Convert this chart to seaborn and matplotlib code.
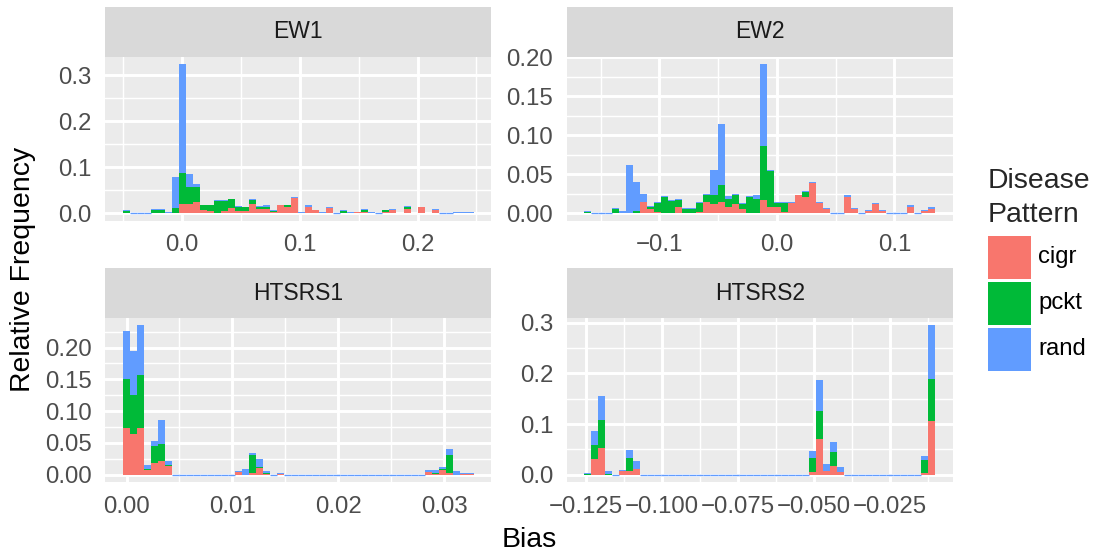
import numpy as np
import pandas as pd
import matplotlib
matplotlib.use("Agg")
import matplotlib.pyplot as plt
from matplotlib.patches import Rectangle
import seaborn as sns

sns.set_style("white")
plt.rcParams["font.family"] = ["Liberation Sans", "DejaVu Sans"]

# ---------------------------------------------------------------------------
# Binned relative frequencies (50 bins per method), one list per pattern
# ---------------------------------------------------------------------------
patterns = ["cigr", "pckt", "rand"]
colors = {"cigr": "#F8766D", "pckt": "#00BA38", "rand": "#619CFF"}

ew1_range = (-0.0506, 0.2477)
ew1_cigr = [0, 0, 0, 0, 0, 0, 0, 0, 0.020, 0.020,
            0.025, 0.007, 0.005, 0.001, 0.005, 0.012, 0.005, 0.005, 0.020, 0.009,
            0.010, 0.003, 0.018, 0.014, 0.034, 0, 0.014, 0.006, 0.001, 0.012,
            0, 0, 0, 0.002, 0.003, 0.001, 0, 0.003, 0.008, 0,
            0.009, 0, 0.013, 0, 0.008, 0, 0, 0.001, 0.001, 0.001]
ew1_pckt = [0.005, 0, 0, 0, 0.008, 0.008, 0, 0.012, 0.067, 0.037,
            0.032, 0.010, 0.012, 0.026, 0.022, 0.018, 0.009, 0.008, 0.009, 0.005,
            0.004, 0.001, 0, 0.003, 0, 0, 0, 0, 0, 0,
            0, 0.005, 0.001, 0, 0.004, 0, 0, 0.004, 0, 0,
            0.004, 0, 0, 0, 0, 0, 0, 0, 0, 0]
ew1_rand = [0.002, 0, 0, 0, 0.001, 0.001, 0.003, 0.066, 0.236, 0.028,
            0.006, 0.001, 0.001, 0.002, 0.002, 0.002, 0.002, 0.001, 0.002, 0.001,
            0.003, 0.003, 0.001, 0.001, 0.002, 0.002, 0.003, 0.001, 0.001, 0.002,
            0, 0.002, 0.001, 0.001, 0.002, 0.001, 0, 0.001, 0.001, 0.001,
            0.003, 0.001, 0.001, 0.001, 0.001, 0, 0, 0.001, 0.001, 0.001]

ew2_range = (-0.164, 0.1348)
ew2_cigr = [0, 0, 0, 0, 0, 0, 0, 0, 0.015, 0.0055,
            0.002, 0, 0, 0.0085, 0, 0, 0.002, 0.0145, 0.012, 0.0145,
            0.008, 0.012, 0.0055, 0, 0, 0.017, 0.008, 0.008, 0.002, 0.013,
            0.023, 0.021, 0.039, 0.013, 0.006, 0, 0, 0.021, 0.006, 0,
            0.003, 0.012, 0.003, 0, 0, 0, 0.008, 0, 0.003, 0.0055]
ew2_pckt = [0.0013, 0, 0, 0, 0.0055, 0, 0, 0.003, 0, 0.003,
            0.011, 0.021, 0.016, 0.009, 0.006, 0.006, 0.011, 0.009, 0.012, 0.022,
            0.010, 0.012, 0.007, 0.021, 0.018, 0.069, 0.046, 0.005, 0.011, 0,
            0, 0.0065, 0, 0, 0, 0, 0, 0, 0, 0,
            0, 0, 0, 0, 0, 0, 0, 0, 0, 0]
ew2_rand = [0.001, 0, 0, 0, 0.001, 0.003, 0.062, 0.037, 0.010, 0.001,
            0.001, 0.001, 0.001, 0.001, 0.001, 0.001, 0.001, 0.001, 0.031, 0.078,
            0.004, 0.001, 0.001, 0.001, 0.006, 0.105, 0.001, 0.001, 0.001, 0.001,
            0.001, 0.001, 0.001, 0.001, 0.001, 0, 0, 0.002, 0.001, 0,
            0.001, 0.001, 0.001, 0, 0, 0, 0.002, 0, 0.001, 0.002]

htsrs1_range = (-0.000377, 0.0328)
htsrs1_cigr = [0.0735, 0.064, 0.0735, 0.0068, 0.0178, 0.021, 0.0142, 0, 0, 0,
               0, 0, 0, 0, 0, 0, 0.0037, 0, 0.002, 0.010,
               0.001, 0, 0.001, 0, 0, 0, 0, 0, 0, 0,
               0, 0, 0, 0, 0, 0, 0, 0, 0, 0,
               0, 0, 0, 0.0037, 0.001, 0.0073, 0.002, 0, 0.001, 0.001]
htsrs1_pckt = [0.0766, 0.0614, 0.083, 0.0016, 0.0268, 0.0268, 0.001, 0, 0, 0,
               0, 0, 0, 0, 0, 0, 0, 0, 0.0283, 0.0016,
               0.001, 0, 0, 0, 0, 0, 0, 0, 0, 0,
               0, 0, 0, 0, 0, 0, 0, 0, 0, 0,
               0, 0, 0, 0.001, 0.001, 0.001, 0.0283, 0, 0, 0]
htsrs1_rand = [0.0755, 0.0687, 0.0787, 0.0063, 0.0089, 0.0378, 0.0058, 0, 0, 0,
               0, 0, 0, 0, 0, 0, 0.0016, 0.0084, 0.003, 0.0126,
               0.003, 0, 0.001, 0, 0, 0, 0, 0, 0, 0,
               0, 0, 0, 0, 0, 0, 0, 0, 0, 0,
               0, 0, 0, 0.003, 0.0058, 0.003, 0.0094, 0.005, 0.001, 0.001]

htsrs2_range = (-0.12566, -0.01019)
htsrs2_cigr = [0, 0.031, 0.052, 0, 0, 0.0066, 0.0066, 0.011, 0, 0,
               0, 0, 0, 0, 0, 0, 0, 0, 0, 0,
               0, 0, 0, 0, 0, 0, 0, 0, 0, 0,
               0, 0, 0.005, 0.0695, 0.007, 0.017, 0.005, 0, 0, 0,
               0, 0, 0, 0, 0, 0, 0, 0, 0.003, 0.1066]
htsrs2_pckt = [0.002, 0.028, 0.055, 0.0005, 0, 0, 0.027, 0, 0, 0,
               0, 0, 0, 0, 0, 0, 0, 0, 0, 0,
               0, 0, 0, 0, 0, 0, 0, 0, 0, 0,
               0, 0, 0.028, 0.057, 0, 0.028, 0.0005, 0, 0, 0,
               0, 0, 0, 0, 0, 0, 0, 0, 0.026, 0.083]
htsrs2_rand = [0.002, 0.028, 0.048, 0.007, 0, 0.0026, 0.014, 0.016, 0, 0,
               0, 0, 0, 0, 0, 0, 0, 0, 0, 0,
               0, 0, 0, 0, 0, 0, 0, 0, 0, 0,
               0, 0, 0.014, 0.060, 0.0146, 0.020, 0.010, 0, 0, 0,
               0, 0, 0, 0, 0, 0, 0, 0, 0.008, 0.106]

# Axis breaks and labels per facet (free scales)
ew1_xticks, ew1_xlabels = [0.0, 0.1, 0.2], ["0.0", "0.1", "0.2"]
ew1_yticks, ew1_ylabels = [0.0, 0.1, 0.2, 0.3], ["0.0", "0.1", "0.2", "0.3"]
ew2_xticks, ew2_xlabels = [-0.1, 0.0, 0.1], ["\u22120.1", "0.0", "0.1"]
ew2_yticks = [0.0, 0.05, 0.10, 0.15, 0.20]
ew2_ylabels = ["0.00", "0.05", "0.10", "0.15", "0.20"]
htsrs1_xticks = [0.0, 0.01, 0.02, 0.03]
htsrs1_xlabels = ["0.00", "0.01", "0.02", "0.03"]
htsrs1_yticks = [0.0, 0.05, 0.10, 0.15, 0.20]
htsrs1_ylabels = ["0.00", "0.05", "0.10", "0.15", "0.20"]
htsrs2_xticks = [-0.125, -0.100, -0.075, -0.050, -0.025]
htsrs2_xlabels = ["\u22120.125", "\u22120.100", "\u22120.075", "\u22120.050", "\u22120.025"]
htsrs2_yticks, htsrs2_ylabels = [0.0, 0.1, 0.2, 0.3], ["0.0", "0.1", "0.2", "0.3"]

facets = [
    ("EW1", ew1_range, (ew1_cigr, ew1_pckt, ew1_rand),
     ew1_xticks, ew1_xlabels, ew1_yticks, ew1_ylabels),
    ("EW2", ew2_range, (ew2_cigr, ew2_pckt, ew2_rand),
     ew2_xticks, ew2_xlabels, ew2_yticks, ew2_ylabels),
    ("HTSRS1", htsrs1_range, (htsrs1_cigr, htsrs1_pckt, htsrs1_rand),
     htsrs1_xticks, htsrs1_xlabels, htsrs1_yticks, htsrs1_ylabels),
    ("HTSRS2", htsrs2_range, (htsrs2_cigr, htsrs2_pckt, htsrs2_rand),
     htsrs2_xticks, htsrs2_xlabels, htsrs2_yticks, htsrs2_ylabels),
]

# ---------------------------------------------------------------------------
# Figure layout (pixel based)
# ---------------------------------------------------------------------------
W, H, DPI = 1096, 554, 100
fig = plt.figure(figsize=(W / DPI, H / DPI), dpi=DPI)
fig.patch.set_facecolor("white")


def px_axes(left, top, right, bottom):
    return fig.add_axes([left / W, 1 - bottom / H, (right - left) / W, (bottom - top) / H])


col_x = [(105.0, 491.3), (566.5, 952.8)]
row_y = [(7.0, 57.0, 220.7), (268.3, 317.7, 482.0)]   # strip top, panel top, panel bottom

PANEL_BG = "#EBEBEB"
STRIP_BG = "#D9D9D9"
TICK_COL = "#333333"
LABEL_COL = "#4D4D4D"
NBINS = 50
TICK_SIZE = 17.3
TITLE_SIZE = 20.4
STRIP_SIZE = 16.5


def minor_breaks(major, lo, hi):
    step = major[1] - major[0]
    cands = [major[0] - step / 2] + [m + step / 2 for m in major]
    return [c for c in cands if lo < c < hi]


for i, (name, rng, series, xt, xl, yt, yl) in enumerate(facets):
    r, c = divmod(i, 2)
    left, right = col_x[c]
    strip_top, panel_top, panel_bottom = row_y[r]

    width = (rng[1] - rng[0]) / NBINS
    centers = rng[0] + width * (np.arange(NBINS) + 0.5)
    df = pd.DataFrame({
        "Bias": np.tile(centers, 3),
        "freq": np.concatenate([np.asarray(s, float) for s in series]),
        "Pattern": np.repeat(patterns, NBINS),
    })

    ax = px_axes(left, panel_top, right, panel_bottom)
    ax.set_facecolor(PANEL_BG)
    sns.histplot(data=df, x="Bias", weights="freq", hue="Pattern",
                 hue_order=["rand", "pckt", "cigr"], palette=colors,
                 multiple="stack", bins=NBINS, binrange=rng, stat="count",
                 alpha=1, linewidth=0, legend=False, ax=ax)

    # zero-height rectangles still leave a hairline of the top layer
    blue = matplotlib.colors.to_rgba(colors["rand"])
    for p in ax.patches:
        if np.allclose(p.get_facecolor(), blue) and abs(p.get_height()) < 1e-9:
            p.set_edgecolor(colors["rand"])
            p.set_linewidth(1.0)
            p.set_zorder(3)

    top_total = float(np.max(np.sum([np.asarray(s, float) for s in series], axis=0)))
    span = rng[1] - rng[0]
    xlim = (rng[0] - 0.05 * span, rng[1] + 0.05 * span)
    ylim = (-0.05 * top_total, 1.05 * top_total)
    ax.set_xlim(*xlim)
    ax.set_ylim(*ylim)

    ax.set_xticks(xt)
    ax.set_xticklabels(xl)
    ax.set_yticks(yt)
    ax.set_yticklabels(yl)
    ax.set_xticks(minor_breaks(xt, *xlim), minor=True)
    ax.set_yticks(minor_breaks(yt, *ylim), minor=True)
    ax.grid(which="major", color="white", linewidth=2.1)
    ax.grid(which="minor", color="white", linewidth=1.05)
    ax.set_axisbelow(True)
    ax.tick_params(which="minor", length=0)
    ax.tick_params(which="major", length=5.3, width=1.8, color=TICK_COL,
                   labelcolor=LABEL_COL, labelsize=TICK_SIZE)
    ax.tick_params(axis="x", pad=4.6)
    ax.tick_params(axis="y", pad=4.3)
    ax.set_xlabel("")
    ax.set_ylabel("")
    for s in ax.spines.values():
        s.set_visible(False)

    sax = px_axes(left, strip_top, right, panel_top)
    sax.set_facecolor(STRIP_BG)
    sax.set_xticks([])
    sax.set_yticks([])
    for s in sax.spines.values():
        s.set_visible(False)
    sax.text(0.5, 0.5, name, ha="center", va="center", fontsize=STRIP_SIZE,
             color="#1A1A1A", transform=sax.transAxes)

# Axis titles
fig.text(529 / W, 1 - 547.3 / H, "Bias", ha="center", va="baseline",
         fontsize=TITLE_SIZE, color="black")
fig.text(23.5 / W, 1 - 269.5 / H, "Relative Frequency", ha="center", va="center",
         rotation=90, fontsize=TITLE_SIZE, color="black")

# Legend
fig.text(987.7 / W, 1 - 188.3 / H, "Disease", ha="left", va="baseline", fontsize=TITLE_SIZE)
fig.text(987.7 / W, 1 - 221.7 / H, "Pattern", ha="left", va="baseline", fontsize=TITLE_SIZE)
key_tops = [236.0, 282.0, 328.0]
for name, top in zip(patterns, key_tops):
    fig.patches.append(Rectangle((987.7 / W, 1 - (top + 42.5) / H), 43.3 / W, 42.5 / H,
                                 transform=fig.transFigure, facecolor=colors[name],
                                 edgecolor="none"))
    fig.text(1038 / W, 1 - (top + 21.2) / H, name, ha="left", va="center",
             fontsize=17.2, color="black")

fig.savefig("out.png", dpi=DPI)
